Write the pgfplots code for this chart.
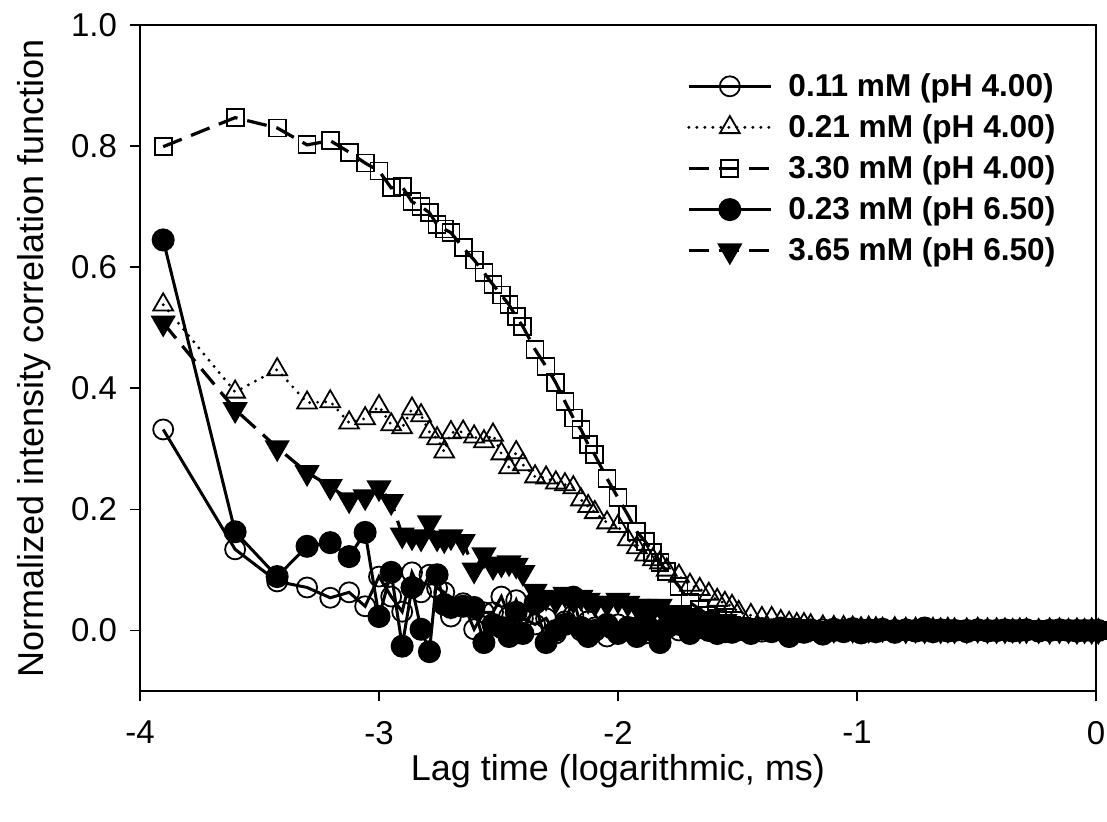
\documentclass[border=0pt]{standalone}
\usepackage{fontspec}
\setmainfont{Liberation Sans}
\usepackage{pgfplots}
\usepackage{pgfplotstable}
\pgfplotsset{compat=1.18}
\pgfplotstableread{
x a b c d e
-3.903 0.332 0.538 0.799 0.645 0.508
-3.602 0.134 0.394 0.847 0.163 0.365
-3.426 0.081 0.431 0.830 0.089 0.302
-3.301 0.071 0.376 0.802 0.139 0.261
-3.204 0.054 0.378 0.809 0.145 0.238
-3.125 0.063 0.343 0.790 0.122 0.216
-3.058 0.040 0.350 0.772 0.162 0.221
-3.000 0.089 0.370 0.759 0.023 0.236
-2.949 0.056 0.340 0.731 0.096 0.213
-2.903 0.031 0.335 0.733 -0.026 0.158
-2.862 0.096 0.366 0.708 0.071 0.155
-2.824 0.063 0.355 0.700 0.002 0.153
-2.789 0.092 0.328 0.690 -0.035 0.178
-2.757 0.070 0.317 0.670 0.092 0.153
-2.727 0.063 0.295 0.663 0.043 0.150
-2.699 0.023 0.327 0.657 0.038 0.155
-2.648 0.045 0.328 0.632 0.040 0.147
-2.602 0.002 0.320 0.612 0.038 0.100
-2.561 0.030 0.312 0.591 -0.020 0.125
-2.523 0.030 0.323 0.571 0.010 0.106
-2.488 0.056 0.292 0.554 0.005 0.110
-2.456 0.023 0.269 0.538 -0.010 0.112
-2.426 0.050 0.294 0.518 0.030 0.108
-2.398 0.020 0.274 0.502 -0.005 0.096
-2.347 0.010 0.254 0.464 0.045 0.065
-2.301 0.020 0.252 0.436 -0.020 0.055
-2.260 -0.005 0.244 0.409 0.000 0.050
-2.222 0.015 0.241 0.378 0.010 0.060
-2.187 0.025 0.236 0.351 0.055 0.050
-2.155 0.000 0.216 0.332 0.005 0.055
-2.125 0.015 0.205 0.307 -0.010 0.050
-2.097 0.005 0.195 0.290 0.000 0.045
-2.046 -0.010 0.178 0.251 0.010 0.045
-2.000 0.010 0.172 0.219 -0.005 0.050
-1.959 0.000 0.150 0.191 0.005 0.045
-1.921 0.005 0.137 0.163 -0.010 0.040
-1.886 -0.005 0.125 0.147 0.015 0.040
-1.854 0.010 0.117 0.129 0.000 0.035
-1.824 0.000 0.112 0.112 -0.020 0.040
-1.796 0.005 0.100 0.097 0.005 0.030
-1.745 0.000 0.090 0.073 0.010 0.030
-1.699 -0.005 0.075 0.046 -0.005 0.025
-1.658 0.005 0.068 0.035 0.005 0.020
-1.620 0.000 0.060 0.025 0.000 0.020
-1.585 0.005 0.050 0.020 -0.005 0.015
-1.553 -0.003 0.045 0.012 0.005 0.015
-1.523 0.002 0.040 0.008 -0.003 0.010
-1.495 0.000 0.030 0.006 0.002 0.010
-1.444 0.003 0.025 0.004 -0.005 0.008
-1.398 -0.002 0.020 0.002 0.003 0.006
-1.357 0.002 0.020 0.004 -0.002 0.005
-1.319 0.000 0.015 0.001 0.004 0.006
-1.284 0.003 0.012 0.003 -0.010 0.004
-1.252 -0.002 0.010 0.000 0.002 0.005
-1.222 0.001 0.010 0.002 -0.003 0.003
-1.194 0.000 0.008 0.001 0.001 0.004
-1.143 0.002 0.006 0.000 -0.006 0.003
-1.097 -0.001 0.005 0.002 0.002 0.002
-1.056 0.001 0.005 -0.001 -0.002 0.004
-1.018 0.000 0.004 0.001 0.003 0.002
-0.983 0.002 0.003 0.000 -0.004 0.003
-0.951 -0.001 0.004 0.001 0.001 0.002
-0.921 0.001 0.003 -0.001 -0.002 0.002
-0.893 0.000 0.002 0.000 0.002 0.003
-0.842 0.001 0.003 0.001 -0.003 0.002
-0.796 0.000 0.002 0.000 0.001 0.001
-0.755 0.001 0.002 0.001 -0.001 0.002
-0.717 -0.001 0.001 0.000 0.004 0.001
-0.682 0.001 0.002 0.001 -0.002 0.002
-0.650 0.000 0.001 0.000 0.001 0.001
-0.620 0.001 0.002 0.000 -0.001 0.002
-0.592 0.000 0.001 0.001 0.000 0.001
-0.541 0.001 0.001 0.000 -0.002 0.001
-0.495 0.000 0.002 0.001 0.001 0.002
-0.454 0.001 0.001 0.000 -0.001 0.001
-0.416 -0.001 0.001 0.001 0.000 0.001
-0.381 0.000 0.001 0.000 0.001 0.001
-0.349 0.001 0.000 0.001 -0.001 0.002
-0.319 0.000 0.001 0.000 0.000 0.001
-0.291 0.001 0.001 0.001 0.001 0.001
-0.240 0.000 0.000 0.000 -0.001 0.001
-0.194 0.001 0.001 0.001 0.000 0.000
-0.153 0.000 0.001 0.000 0.001 0.001
-0.115 0.000 0.000 0.001 0.000 0.001
-0.080 0.001 0.001 0.000 -0.001 0.000
-0.048 0.000 0.000 0.001 0.000 0.001
-0.018 0.000 0.001 0.000 0.000 0.000
0.010 0.000 0.000 0.000 0.000 0.000
}\datatable
\begin{document}
\begin{tikzpicture}
\path[use as bounding box] (-70pt,-65pt) rectangle (483.5pt,345.5pt);
\begin{axis}[
  at={(0,0)}, anchor=south west,
  scale only axis, width=478pt, height=333pt,
  xmin=-4, xmax=0, ymin=-0.1, ymax=1.0,
  xtick={-4,-3,-2,-1,0}, xticklabels={-4,-3,-2,-1,0},
  ytick={0,0.2,0.4,0.6,0.8,1.0}, yticklabels={0.0,0.2,0.4,0.6,0.8,1.0},
  tick align=outside, xtick pos=lower, ytick pos=left,
  major tick length=5pt,
  tick style={black, line width=0.8pt},
  axis line style={line width=0.8pt},
  ticklabel style={font=\fontsize{16.5}{19}\selectfont},
  xticklabel style={yshift=-6.5pt},
  yticklabel style={xshift=-3pt},
  xlabel={Lag time (logarithmic, ms)},
  ylabel={Normalized intensity correlation function},
  label style={font=\fontsize{18}{22}\selectfont},
  xlabel style={at={(axis description cs:0.5,0)}, anchor=center, yshift=-40pt},
  ylabel style={at={(axis description cs:0,0.5)}, anchor=center, yshift=53pt},
  legend style={at={(rel axis cs:0.572,0.934)}, anchor=north west, draw=none, fill=none,
    font=\fontsize{15.8}{19}\selectfont\bfseries, row sep=3.6pt, inner sep=0pt,
    /tikz/every odd column/.append style={column sep=6pt}},
  legend cell align=left,
  legend image code/.code={\draw[mark repeat=2,mark phase=2,#1] plot coordinates {(0pt,0pt) (20.5pt,0pt) (41pt,0pt)};},
  clip=false,
]
\addplot[black, line width=1.5pt, mark=o, mark size=5pt, mark options={solid, line width=0.9pt}]
  table[x=x, y=a] {\datatable};
\addlegendentry{0.11 mM (pH 4.00)}
\addplot[black, line width=1.6pt, line cap=round, dash pattern=on 0pt off 4pt, mark=triangle, mark size=5.7pt, mark options={solid, line width=0.9pt, line cap=butt}]
  table[x=x, y=b] {\datatable};
\addlegendentry{0.21 mM (pH 4.00)}
\addplot[black, line width=1.6pt, dash pattern=on 10pt off 5pt, mark=square, mark size=4.25pt, mark options={solid, line width=0.9pt}]
  table[x=x, y=c] {\datatable};
\addlegendentry{3.30 mM (pH 4.00)}
\addplot[black, line width=1.5pt, mark=*, mark size=5pt, mark options={solid}]
  table[x=x, y=d] {\datatable};
\addlegendentry{0.23 mM (pH 6.50)}
\addplot[black, line width=1.6pt, dash pattern=on 10pt off 5pt, mark=triangle*, mark size=5.7pt, mark options={solid, rotate=180}]
  table[x=x, y=e] {\datatable};
\addlegendentry{3.65 mM (pH 6.50)}
\end{axis}
\end{tikzpicture}
\end{document}
